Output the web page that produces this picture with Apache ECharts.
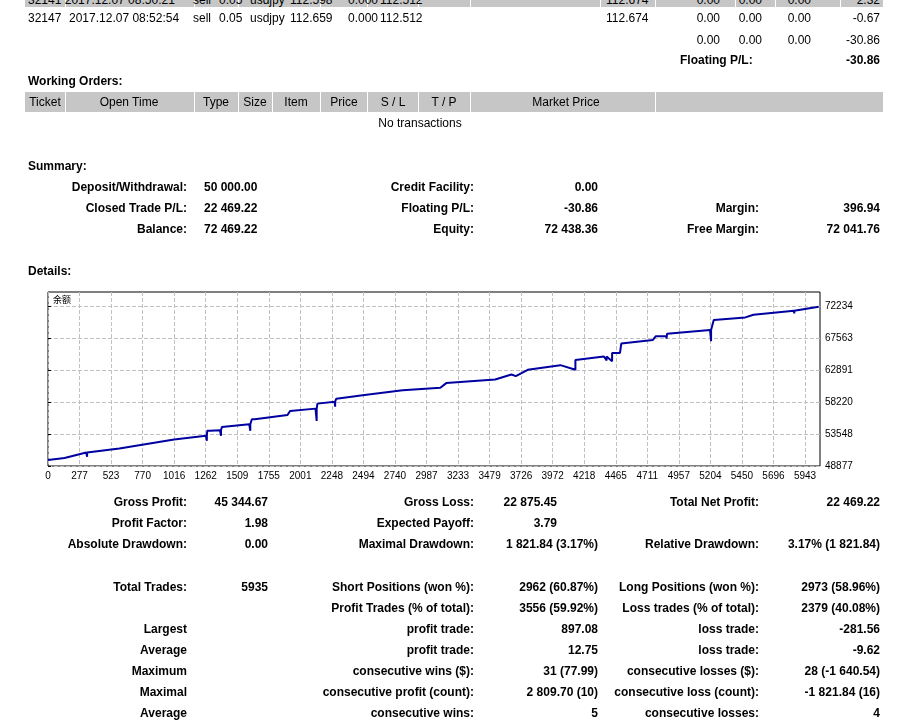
<!DOCTYPE html>
<html><head><meta charset="utf-8">
<script src="https://cdn.jsdelivr.net/npm/echarts@6/dist/echarts.min.js"></script>
<style>
body{margin:0;background:#fff;font-family:"Liberation Sans",Arial,sans-serif;font-size:12px;color:#000}
#main{position:absolute;left:0;top:0;width:901px;height:725px}
.t{position:absolute;white-space:nowrap;line-height:14px;z-index:2}
.r{transform:translateX(-100%)}
.c{transform:translateX(-50%)}
.b{font-weight:bold}
.band{position:absolute;background:#c6c6c6;z-index:1}
.sep{position:absolute;background:#fff;width:1px;z-index:1}
</style></head><body>
<div id="main"></div>
<div id="txt"></div>
<script>
// balance curve (trade no. / balance), spikes are intra-trade drawdowns
var tradeNo = [0, 130, 137, 137, 300, 307, 307, 560, 564, 564, 990, 1240, 1247, 1247, 1250, 1273, 1350, 1358, 1358, 1365, 1375, 1580, 1588, 1588, 1600, 1623, 1880, 1887, 1887, 1900, 1913, 2100, 2109, 2109, 2115, 2126, 2250, 2254, 2254, 2263, 2485, 2784, 3080, 3083, 3083, 3126, 3510, 3638, 3672, 3672, 3766, 4022, 4140, 4140, 4150, 4364, 4385, 4385, 4428, 4428, 4449, 4490, 4500, 4748, 4770, 4855, 4855, 4860, 5197, 5205, 5205, 5226, 5474, 5538, 5855, 5858, 5858, 5867, 6050];
var balance = [49750, 50040, 49750, 50040, 50860, 50230, 50860, 51440, 51200, 51440, 52750, 53290, 52560, 53290, 54010, 54010, 54110, 53290, 54110, 54590, 54590, 54980, 54010, 54980, 55710, 55710, 56340, 56050, 56340, 56920, 56920, 57260, 55470, 57260, 57990, 57990, 58280, 57550, 58280, 58710, 59240, 59930, 60310, 60070, 60310, 60990, 61520, 62250, 62010, 62250, 62930, 63610, 62930, 64380, 64380, 64870, 64290, 64870, 64190, 65400, 65400, 65400, 66760, 67290, 67820, 67820, 67480, 68210, 68740, 67100, 68740, 70200, 70590, 70980, 71560, 71170, 71560, 71850, 72140];
var yTicks = [48877, 53548, 58220, 62891, 67563, 72234];
var xTickLabels = ['0','277','523','770','1016','1262','1509','1755','2001','2248','2494','2740','2987','3233','3479','3726','3972','4218','4465','4711','4957','5204','5450','5696','5943'];
var xTickStep = 247.6;

// report text: [x, y, text, align, bold]
var texts = [
 [28,-7,'32141 2017.12.07 08:50:21','l'],[211,-7,'sell','r'],[219,-7,'0.05','l'],[250,-7,'usdjpy','l'],[290,-7,'112.598','l'],[348,-7,'0.000','l'],[380,-7,'112.512','l'],[606,-7,'112.674','l'],[720,-7,'0.00','r'],[762,-7,'0.00','r'],[811,-7,'0.00','r'],[880,-7,'2.32','r'],
 [28,11,'32147','l'],[69,11,'2017.12.07 08:52:54','l'],[211,11,'sell','r'],[219,11,'0.05','l'],[250,11,'usdjpy','l'],[290,11,'112.659','l'],[348,11,'0.000','l'],[380,11,'112.512','l'],[606,11,'112.674','l'],[720,11,'0.00','r'],[762,11,'0.00','r'],[811,11,'0.00','r'],[880,11,'-0.67','r'],
 [720,33,'0.00','r'],[762,33,'0.00','r'],[811,33,'0.00','r'],[880,33,'-30.86','r'],
 [680,53,'Floating P/L:','l',1],[880,53,'-30.86','r',1],
 [28,74,'Working Orders:','l',1],
 [45,95,'Ticket','c'],[129,95,'Open Time','c'],[216,95,'Type','c'],[255,95,'Size','c'],[296,95,'Item','c'],[344,95,'Price','c'],[393,95,'S / L','c'],[444,95,'T / P','c'],[566,95,'Market Price','c'],
 [420,116,'No transactions','c'],
 [28,159,'Summary:','l',1],
 [187,180,'Deposit/Withdrawal:','r',1],[204,180,'50 000.00','l',1],[474,180,'Credit Facility:','r',1],[598,180,'0.00','r',1],
 [187,201,'Closed Trade P/L:','r',1],[204,201,'22 469.22','l',1],[474,201,'Floating P/L:','r',1],[598,201,'-30.86','r',1],[759,201,'Margin:','r',1],[880,201,'396.94','r',1],
 [187,222,'Balance:','r',1],[204,222,'72 469.22','l',1],[474,222,'Equity:','r',1],[598,222,'72 438.36','r',1],[759,222,'Free Margin:','r',1],[880,222,'72 041.76','r',1],
 [28,264,'Details:','l',1],
 [187,495,'Gross Profit:','r',1],[268,495,'45 344.67','r',1],[474,495,'Gross Loss:','r',1],[557,495,'22 875.45','r',1],[759,495,'Total Net Profit:','r',1],[880,495,'22 469.22','r',1],
 [187,516,'Profit Factor:','r',1],[268,516,'1.98','r',1],[474,516,'Expected Payoff:','r',1],[557,516,'3.79','r',1],
 [187,537,'Absolute Drawdown:','r',1],[268,537,'0.00','r',1],[474,537,'Maximal Drawdown:','r',1],[598,537,'1 821.84 (3.17%)','r',1],[759,537,'Relative Drawdown:','r',1],[880,537,'3.17% (1 821.84)','r',1],
 [187,580,'Total Trades:','r',1],[268,580,'5935','r',1],[474,580,'Short Positions (won %):','r',1],[598,580,'2962 (60.87%)','r',1],[759,580,'Long Positions (won %):','r',1],[880,580,'2973 (58.96%)','r',1],
 [474,601,'Profit Trades (% of total):','r',1],[598,601,'3556 (59.92%)','r',1],[759,601,'Loss trades (% of total):','r',1],[880,601,'2379 (40.08%)','r',1],
 [187,622,'Largest','r',1],[474,622,'profit trade:','r',1],[598,622,'897.08','r',1],[759,622,'loss trade:','r',1],[880,622,'-281.56','r',1],
 [187,643,'Average','r',1],[474,643,'profit trade:','r',1],[598,643,'12.75','r',1],[759,643,'loss trade:','r',1],[880,643,'-9.62','r',1],
 [187,664,'Maximum','r',1],[474,664,'consecutive wins ($):','r',1],[598,664,'31 (77.99)','r',1],[759,664,'consecutive losses ($):','r',1],[880,664,'28 (-1 640.54)','r',1],
 [187,685,'Maximal','r',1],[474,685,'consecutive profit (count):','r',1],[598,685,'2 809.70 (10)','r',1],[759,685,'consecutive loss (count):','r',1],[880,685,'-1 821.84 (16)','r',1],
 [187,706,'Average','r',1],[474,706,'consecutive wins:','r',1],[598,706,'5','r',1],[759,706,'consecutive losses:','r',1],[880,706,'4','r',1]
];
var html = '<div class="band" style="left:25px;top:0;width:858px;height:7px"></div>'+
  '<div class="band" style="left:25px;top:92px;width:858px;height:20px"></div>';
[65,194,238,272,320,367,418,470,655].forEach(function(x){html+='<div class="sep" style="left:'+x+'px;top:92px;height:20px"></div>';});
[65,194,238,272,320,367,418,470,600,655,735,775,840].forEach(function(x){html+='<div class="sep" style="left:'+x+'px;top:0;height:7px"></div>';});
texts.forEach(function(t){
  var cls='t'+(t[3]=='r'?' r':t[3]=='c'?' c':'')+(t[4]?' b':'');
  html+='<div class="'+cls+'" style="left:'+t[0]+'px;top:'+t[1]+'px">'+t[2]+'</div>';
});
document.getElementById('txt').innerHTML = html;

var chart = echarts.init(document.getElementById('main'));
chart.setOption({
  animation:false,
  grid:{left:48,top:292,width:772,height:174,show:true,borderColor:'#000',borderWidth:1,backgroundColor:'#fff'},
  graphic:[{type:'text',left:53,top:295,style:{text:'余额',fontSize:9,fill:'#000',fontFamily:'Noto Sans CJK SC'}}],
  xAxis:{type:'value',min:0,max:6060,axisLine:{show:false},
    axisTick:{show:false,customValues:xTickLabels.map(function(l,i){return i*xTickStep;})},
    axisLabel:{customValues:xTickLabels.map(function(l,i){return i*xTickStep;}),fontSize:10,color:'#000',margin:5,
      formatter:function(v){return xTickLabels[Math.round(v/xTickStep)];}},
    splitLine:{show:true,lineStyle:{color:'#c0c0c0',type:'dashed'}}},
  yAxis:{type:'value',position:'right',min:48877,max:74300,axisLine:{show:false},
    axisTick:{show:true,customValues:yTicks,length:3,lineStyle:{color:'#000'}},
    axisLabel:{customValues:yTicks,fontSize:10,color:'#000',margin:5,formatter:function(v){return String(v);}},
    splitLine:{show:true,lineStyle:{color:'#c0c0c0',type:'dashed'}}},
  series:[{type:'line',data:tradeNo.map(function(x,i){return [x,balance[i]];}),showSymbol:false,
    lineStyle:{color:'#0000a0',width:2}}]
});
</script></body></html>
